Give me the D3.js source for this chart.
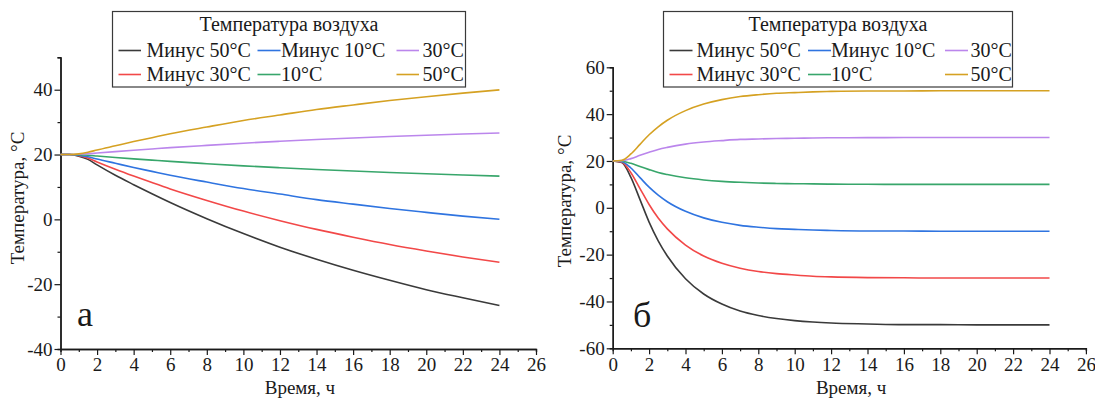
<!DOCTYPE html>
<html>
<head>
<meta charset="utf-8">
<script src="https://cdn.jsdelivr.net/npm/d3@7"></script>
<style>
  body { margin: 0; background: #fff; }
  svg, svg text { font-family: "Liberation Serif", "Times New Roman", serif !important; }
</style>
</head>
<body>
<div id="chart"></div>
<script>
// air temperatures, legend order
var legendLabels = ["Минус 50°C", "Минус 30°C", "Минус 10°C", "10°C", "30°C", "50°C"];
var lineColors = ["#3a3a3a", "#f24848", "#2f74e0", "#38a66b", "#bb86ec", "#d5a122"];
var SERIF = '"Liberation Serif", "Times New Roman", serif';

// panel а
var timeA = [0, 0.5, 1, 1.5, 2, 3, 4, 5, 6, 8, 10, 12, 14, 16, 18, 20, 22, 24];
var minus50A = [20, 20, 19.5, 18.5, 16.8, 13.6, 10.7, 7.9, 5.2, 0.2, -4.4, -8.6, -12.3, -15.7, -18.8, -21.7, -24.2, -26.6];
var minus30A = [20, 20, 19.65, 18.9, 17.7, 15.45, 13.35, 11.35, 9.4, 5.85, 2.55, -0.4, -3.1, -5.5, -7.75, -9.75, -11.6, -13.25];
var minus10A = [20, 20, 19.8, 19.3, 18.6, 17.3, 16.0, 14.8, 13.6, 11.5, 9.5, 7.8, 6.1, 4.7, 3.35, 2.15, 1.0, 0.05];
var plus10A = [20, 20, 19.93, 19.78, 19.54, 19.09, 18.67, 18.27, 17.88, 17.17, 16.51, 15.92, 15.38, 14.9, 14.45, 14.05, 13.68, 13.35];
var plus30A = [20, 20, 20.07, 20.22, 20.46, 20.91, 21.33, 21.73, 22.12, 22.83, 23.49, 24.08, 24.62, 25.1, 25.55, 25.95, 26.32, 26.65];
var plus50A = [20, 20, 20.2, 20.7, 21.4, 22.7, 24.0, 25.2, 26.4, 28.5, 30.5, 32.2, 33.9, 35.3, 36.65, 37.85, 38.95, 39.95];

// panel б
var timeB = [0, 0.5, 1, 1.5, 2, 2.5, 3, 4, 5, 6, 7, 8, 9, 10, 11, 12, 14, 16, 18, 20, 22, 24];
var minus50B = [20, 19.3, 13.0, 3.5, -6.1, -14.1, -20.6, -30.3, -36.8, -41.1, -44.1, -46.0, -47.3, -48.2, -48.8, -49.2, -49.6, -49.9, -49.9, -50, -50, -50];
var minus30B = [20, 19.5, 15.0, 8.2, 1.4, -4.4, -9.0, -15.9, -20.6, -23.7, -25.8, -27.2, -28.1, -28.7, -29.2, -29.5, -29.8, -29.9, -30, -30, -30, -30];
var minus10B = [20, 19.7, 17.0, 12.9, 8.8, 5.4, 2.6, -1.5, -4.3, -6.2, -7.5, -8.3, -8.9, -9.2, -9.5, -9.7, -9.9, -9.9, -10, -10, -10, -10];
var plus10B = [20, 19.9, 19.0, 17.6, 16.3, 15.1, 14.2, 12.8, 11.9, 11.3, 10.9, 10.6, 10.4, 10.3, 10.2, 10.1, 10.05, 10, 10, 10, 10, 10];
var plus30B = [20, 20.1, 21.0, 22.4, 23.7, 24.9, 25.8, 27.2, 28.1, 28.7, 29.2, 29.4, 29.6, 29.7, 29.8, 29.9, 29.95, 30, 30, 30, 30, 30];
var plus50B = [20, 20.3, 23.0, 27.1, 31.2, 34.6, 37.4, 41.5, 44.3, 46.2, 47.5, 48.3, 48.9, 49.2, 49.5, 49.7, 49.9, 49.9, 50, 50, 50, 50];

var xMajor = [0, 2, 4, 6, 8, 10, 12, 14, 16, 18, 20, 22, 24, 26];
var xMinor = [1, 3, 5, 7, 9, 11, 13, 15, 17, 19, 21, 23, 25];
var yMajorA = [-40, -20, 0, 20, 40];
var yMinorA = [-30, -10, 10, 30, 50];
var yMajorB = [-60, -40, -20, 0, 20, 40, 60];
var yMinorB = [-50, -30, -10, 10, 30, 50];

var svg = d3.select("#chart").append("svg")
    .attr("width", 1095)
    .attr("height", 398)
    .style("font-family", SERIF);

function TempPanel(opts) {
    var self = this;
    self.opts = opts;
    self.g = svg.append("g");

    self.x = d3.scaleLinear().domain([0, 26]).range([opts.left, opts.right]);
    self.y = d3.scaleLinear().domain(opts.yDomain).range([opts.bottom, opts.top]);

    self.drawAxes();
    self.drawLines();
    self.drawLegend();
};

TempPanel.prototype.label = function (size) {
    return this.g.append("text")
        .style("font-family", SERIF)
        .style("font-size", size + "px")
        .attr("fill", "#1a1a1a");
};

TempPanel.prototype.drawAxes = function () {
    var self = this, o = self.opts;
    var fmt = function (d) { return String(d); };

    // minor ticks first, then major ticks with labels
    self.g.append("g")
        .attr("transform", "translate(0," + o.bottom + ")")
        .call(d3.axisBottom(self.x).tickValues(xMinor).tickSize(3).tickFormat(""));
    self.g.append("g")
        .attr("transform", "translate(0," + o.bottom + ")")
        .call(d3.axisBottom(self.x).tickValues(xMajor).tickSize(6).tickSizeOuter(0).tickPadding(3).tickFormat(fmt));

    self.g.append("g")
        .attr("transform", "translate(" + o.left + ",0)")
        .call(d3.axisLeft(self.y).tickValues(o.yMinor).tickSize(3).tickFormat(""));
    self.g.append("g")
        .attr("transform", "translate(" + o.left + ",0)")
        .call(d3.axisLeft(self.y).tickValues(o.yMajor).tickSize(6).tickSizeOuter(0).tickPadding(2).tickFormat(fmt));

    self.g.selectAll("g").attr("font-family", null);
    self.g.selectAll(".domain").attr("stroke", "#1a1a1a").attr("stroke-width", 1.4);
    self.g.selectAll(".tick line").attr("stroke", "#1a1a1a").attr("stroke-width", 1.2);
    self.g.selectAll(".tick text")
        .style("font-family", SERIF)
        .style("font-size", "19px")
        .attr("fill", "#1a1a1a");

    self.label(19)
        .attr("x", (o.left + self.x(24)) / 2 + 20)
        .attr("y", 394)
        .attr("text-anchor", "middle")
        .text("Время, ч");

    self.label(19)
        .attr("transform", "translate(" + o.yLabelX + "," + o.yLabelY + ") rotate(-90)")
        .attr("text-anchor", "middle")
        .text("Температура, °C");

    self.label(36)
        .attr("x", o.letterX)
        .attr("y", o.letterY)
        .text(o.letter);
};

TempPanel.prototype.drawLines = function () {
    var self = this, o = self.opts;
    var line = d3.line()
        .x(function (d) { return self.x(d[0]); })
        .y(function (d) { return self.y(d[1]); })
        .curve(d3.curveMonotoneX);

    self.g.selectAll(".curve")
        .data(o.series)
        .enter().append("path")
        .attr("class", "curve")
        .attr("fill", "none")
        .attr("stroke", function (d, i) { return lineColors[i]; })
        .attr("stroke-width", 1.6)
        .attr("d", function (vals) {
            return line(o.time.map(function (t, j) { return [t, vals[j]]; }));
        });
};

TempPanel.prototype.drawLegend = function () {
    var self = this, o = self.opts, L = o.legend;

    self.g.append("rect")
        .attr("x", L.x0).attr("y", 11.5)
        .attr("width", L.x1 - L.x0).attr("height", 75.5)
        .attr("fill", "#fff")
        .attr("stroke", "#3a3a3a")
        .attr("stroke-width", 1.2);

    self.label(20)
        .attr("x", (L.x0 + L.x1) / 2)
        .attr("y", 31)
        .attr("text-anchor", "middle")
        .text("Температура воздуха");

    var rows = [57, 81];
    legendLabels.forEach(function (lab, i) {
        var col = Math.floor(i / 2), row = i % 2;
        var c = L.cols[col];
        self.g.append("line")
            .attr("x1", c[0]).attr("x2", c[1])
            .attr("y1", rows[row] - 6.5).attr("y2", rows[row] - 6.5)
            .attr("stroke", lineColors[i])
            .attr("stroke-width", 1.6);
        self.label(20)
            .attr("x", c[2])
            .attr("y", rows[row])
            .text(lab);
    });
};

new TempPanel({
    left: 60.5, right: 536, top: 57.3, bottom: 349,
    yDomain: [-40, 50], yMajor: yMajorA, yMinor: yMinorA,
    time: timeA,
    series: [minus50A, minus30A, minus10A, plus10A, plus30A, plus50A],
    yLabelX: 24, yLabelY: 198,
    letter: "а", letterX: 77, letterY: 326,
    legend: { x0: 112.5, x1: 465.5, cols: [[118.5, 141, 146.5], [257.5, 280.5, 281], [396.5, 419, 422.5]] }
});

new TempPanel({
    left: 612.7, right: 1085.9, top: 67.3, bottom: 348.3,
    yDomain: [-60, 60], yMajor: yMajorB, yMinor: yMinorB,
    time: timeB,
    series: [minus50B, minus30B, minus10B, plus10B, plus30B, plus50B],
    yLabelX: 571, yLabelY: 201,
    letter: "б", letterX: 633, letterY: 327,
    legend: { x0: 663.5, x1: 1012.5, cols: [[669.5, 692.5, 696.5], [808, 831, 831], [945, 968, 970.5]] }
});
</script>
</body>
</html>
